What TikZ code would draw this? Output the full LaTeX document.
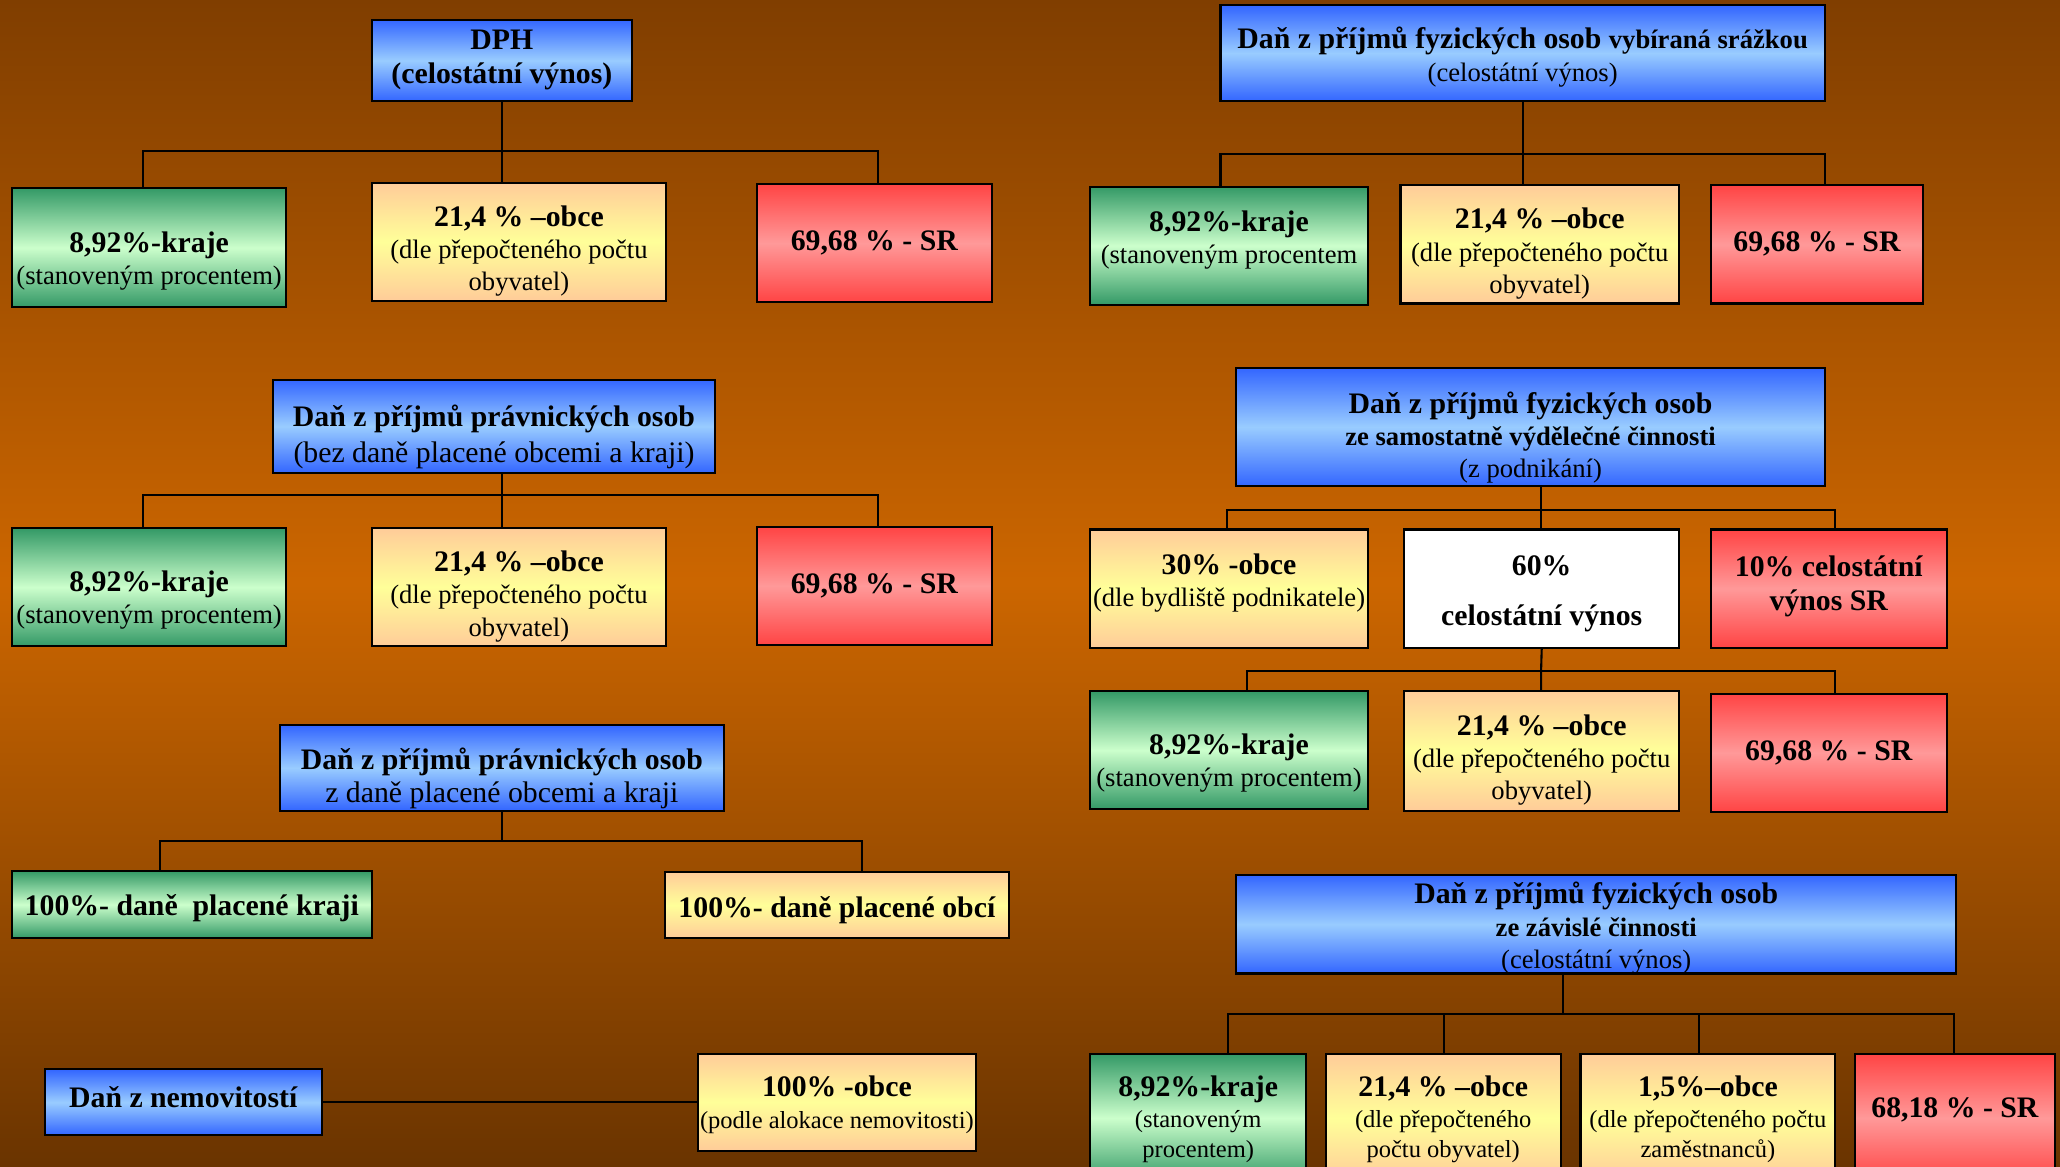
\documentclass[tikz,border=0pt]{standalone}
\usepackage{fontspec}
\setmainfont{Liberation Serif}
\usetikzlibrary{calc}
\definecolor{bgtop}{RGB}{128,62,0}
\definecolor{bgmid}{RGB}{204,102,0}
\definecolor{bgbot}{RGB}{106,52,0}
\definecolor{bluedk}{RGB}{51,102,255}
\definecolor{bluelt}{RGB}{153,204,255}
\definecolor{grndk}{RGB}{51,153,102}
\definecolor{grnlt}{RGB}{204,255,204}
\definecolor{yeldk}{RGB}{255,204,153}
\definecolor{yellt}{RGB}{255,255,153}
\definecolor{reddk}{RGB}{255,68,68}
\definecolor{redlt}{RGB}{255,153,153}
\newcommand\fhb{\fontsize{17}{18.4}\selectfont\bfseries}
\newcommand\fhr{\fontsize{17}{18.4}\selectfont\mdseries}
\newcommand\fsb{\fontsize{15.2}{18.4}\selectfont\bfseries}
\newcommand\fsr{\fontsize{15.2}{18.4}\selectfont\mdseries}
\newcommand\ftr{\fontsize{14}{17.2}\selectfont\mdseries}
% \bx{name}{box style}{x1}{y1}{x2}{y2}{text}{text options}
\newcommand\bx[8]{%
  \node[#2, minimum width={(#5-#3)*0.75pt}, minimum height={(#6-#4)*0.75pt}] (#1) at ({(#3+#5)/2},{(#4+#6)/2}) {};
  \node[boxtext, #8] (#1-t) at (#1.center) {#7};}
\begin{document}
\begin{tikzpicture}[x=0.75pt,y=-0.75pt,
  box/.style={draw=black, line width=1.2pt, inner sep=0pt},
  boxtext/.style={align=center, inner sep=0pt, text=black, font=\fontsize{15.2}{18.4}\selectfont},
  smalltext/.style={font=\fontsize{14}{17.2}\selectfont},
  bluebox/.style={box, top color=bluedk, bottom color=bluedk, middle color=bluelt},
  grnbox/.style={box, top color=grndk, bottom color=grndk, middle color=grnlt},
  yelbox/.style={box, top color=yeldk, bottom color=yeldk, middle color=yellt},
  redbox/.style={box, top color=reddk, bottom color=reddk, middle color=redlt},
  whitebox/.style={box, fill=white},
  conn/.style={draw=black, line width=1.2pt}]
\useasboundingbox (0,0) rectangle (1568,888);
\clip (0,0) rectangle (1568,888);
\shade[top color=bgtop, bottom color=bgbot, middle color=bgmid] (0,0) rectangle (1568,888);

% ---------- left column ----------
\bx{dph}{bluebox}{283}{15}{481}{77}{\fhb DPH\\[1pt] \fhb (celostátní výnos)}{}
\bx{l1a}{grnbox}{9}{143}{218}{234}{\fhb 8,92\%-kraje\\ \fsr (stanoveným procentem)}{yshift=-7.5pt}
\bx{l1b}{yelbox}{283}{139}{507}{229}{\fhb 21,4 \% –obce\\ \fsr (dle přepočteného počtu\\ \fsr obyvatel)}{yshift=-5.25pt}
\bx{l1c}{redbox}{576}{140}{755}{230}{\fhb 69,68 \% - SR}{}
\coordinate (j1) at (382,115);
\coordinate (j1a) at (109,115);
\coordinate (j1c) at (668,115);
\draw[conn] (dph.south) -- (j1) -- (dph.south |- l1b.north);
\draw[conn] (j1a |- l1a.north) -- (j1a) -- (j1c) -- (j1c |- l1c.north);

\bx{po1}{bluebox}{208}{289}{544}{360}{\fhb Daň z příjmů právnických osob\\[2pt] \fhr (bez daně placené obcemi a kraji)}{yshift=-6pt}
\bx{l2a}{grnbox}{9}{402}{218}{492}{\fhb 8,92\%-kraje\\ \fsr (stanoveným procentem)}{yshift=-7.5pt}
\bx{l2b}{yelbox}{283}{402}{507}{492}{\fhb 21,4 \% –obce\\ \fsr (dle přepočteného počtu\\ \fsr obyvatel)}{yshift=-5.25pt}
\bx{l2c}{redbox}{576}{401}{755}{491}{\fhb 69,68 \% - SR}{}
\coordinate (j2) at (382,377);
\coordinate (j2a) at (109,377);
\coordinate (j2c) at (668,377);
\draw[conn] (j2 |- po1.south) -- (j2) -- (j2 |- l2b.north);
\draw[conn] (j2a |- l2a.north) -- (j2a) -- (j2c) -- (j2c |- l2c.north);

\bx{po2}{bluebox}{213}{552}{551}{617}{\fhb Daň z příjmů právnických osob\\ \fhr z daně placené obcemi a kraji}{yshift=-6pt}
\bx{l3a}{grnbox}{9}{663}{283}{714}{\fhb 100\%- daně\ \ placené kraji}{yshift=-2.25pt}
\bx{l3b}{yelbox}{506}{664}{768}{714}{\fhb 100\%- daně placené obcí}{yshift=-3pt}
\coordinate (j3) at (382,640);
\coordinate (j3a) at (122,640);
\coordinate (j3b) at (656,640);
\draw[conn] (po2.south) -- (j3);
\draw[conn] (j3a |- l3a.north) -- (j3a) -- (j3b) -- (j3b |- l3b.north);

\bx{nem}{bluebox}{34}{814}{245}{864}{\fhb Daň z nemovitostí}{yshift=3pt}
\bx{l4}{yelbox}{531}{802}{743}{876}{\fhb 100\% -obce\\ \ftr (podle alokace nemovitosti)}{yshift=-1.5pt}
\draw[conn] (nem.east) -- (nem.east -| l4.west);

% ---------- right column ----------
\bx{r1}{bluebox}{929}{4}{1389}{77}{{\fhb Daň z příjmů fyzických osob }{\fsb vybíraná srážkou}\\ \fsr (celostátní výnos)}{yshift=-2.25pt}
\bx{r1a}{grnbox}{830}{142}{1041}{232}{\fhb 8,92\%-kraje\\ \fsr (stanoveným procentem}{yshift=3pt}
\bx{r1b}{yelbox}{1066}{141}{1278}{231}{\fhb 21,4 \% –obce\\ \fsr (dle přepočteného počtu\\ \fsr obyvatel)}{yshift=-5.25pt}
\bx{r1c}{redbox}{1302}{141}{1464}{231}{\fhb 69,68 \% - SR}{}
\coordinate (k1) at (1159,117);
\coordinate (k1a) at (929,117);
\coordinate (k1c) at (1389,117);
\draw[conn] (r1.south) -- (k1) -- (k1 |- r1b.north);
\draw[conn] (k1a |- r1a.north) -- (k1a) -- (k1c) -- (k1c |- r1c.north);

\bx{r2}{bluebox}{941}{280}{1389}{370}{\fhb Daň z příjmů fyzických osob\\ \fsb ze samostatně výdělečné činnosti\\ \fsr (z podnikání)}{yshift=-6pt}
\bx{r2a}{yelbox}{830}{403}{1041}{493}{\fhb 30\% -obce\\ \fsr (dle bydliště podnikatele)}{yshift=3pt}
\bx{r2b}{whitebox}{1069}{403}{1278}{493}{\fhb 60\%\\[10pt] \fhb celostátní výnos}{yshift=-3pt}
\bx{r2c}{redbox}{1302}{403}{1482}{493}{\fhb 10\% celostátní\\[1pt] \fhb výnos SR}{yshift=1.5pt}
\coordinate (k2) at (1173,388);
\coordinate (k2a) at (934,388);
\coordinate (k2c) at (1397,388);
\draw[conn] (k2 |- r2.south) -- (k2) -- (k2 |- r2b.north);
\draw[conn] (k2a |- r2a.north) -- (k2a) -- (k2c) -- (k2c |- r2c.north);

\bx{r3a}{grnbox}{830}{526}{1041}{616}{\fhb 8,92\%-kraje\\ \fsr (stanoveným procentem)}{yshift=-7.5pt}
\bx{r3b}{yelbox}{1069}{526}{1278}{617}{\fhb 21,4 \% –obce\\ \fsr (dle přepočteného počtu\\ \fsr obyvatel)}{yshift=-5.25pt}
\bx{r3c}{redbox}{1302}{528}{1482}{618}{\fhb 69,68 \% - SR}{}
\coordinate (k3) at (1173,511);
\coordinate (k3a) at (949,511);
\coordinate (k3c) at (1397,511);
\draw[conn] (r2b.south) -- (k3) -- (k3 |- r3b.north);
\draw[conn] (k3a |- r3a.north) -- (k3a) -- (k3c) -- (k3c |- r3c.north);

\bx{r4}{bluebox}{941}{666}{1489}{741}{\fhb Daň z příjmů fyzických osob\\ \fsb ze závislé činnosti\\ \fsr (celostátní výnos)}{yshift=-2.25pt}
\bx{r4a}{grnbox}{830}{802}{994}{900}{\fhb 8,92\%-kraje\\ \ftr (stanoveným\\ \ftr procentem)}{smalltext, yshift=-0.75pt}
\bx{r4b}{yelbox}{1009}{802}{1188}{900}{\fhb 21,4 \% –obce\\ \ftr (dle přepočteného\\ \ftr počtu obyvatel)}{smalltext, yshift=-0.75pt}
\bx{r4c}{yelbox}{1203}{802}{1397}{900}{\fhb 1,5\%–obce\\ \ftr (dle přepočteného počtu\\ \ftr zaměstnanců)}{smalltext, yshift=-0.75pt}
\bx{r4d}{redbox}{1412}{802}{1564}{900}{\fhb 68,18 \% - SR}{yshift=4.5pt}
\coordinate (k4) at (1190,772);
\coordinate (k4a) at (935,772);
\coordinate (k4b) at (1099,772);
\coordinate (k4c) at (1293,772);
\coordinate (k4d) at (1487,772);
\draw[conn] (k4 |- r4.south) -- (k4);
\draw[conn] (k4a |- r4a.north) -- (k4a) -- (k4d) -- (k4d |- r4d.north);
\draw[conn] (k4b) -- (k4b |- r4b.north);
\draw[conn] (k4c) -- (k4c |- r4c.north);
\end{tikzpicture}
\end{document}
